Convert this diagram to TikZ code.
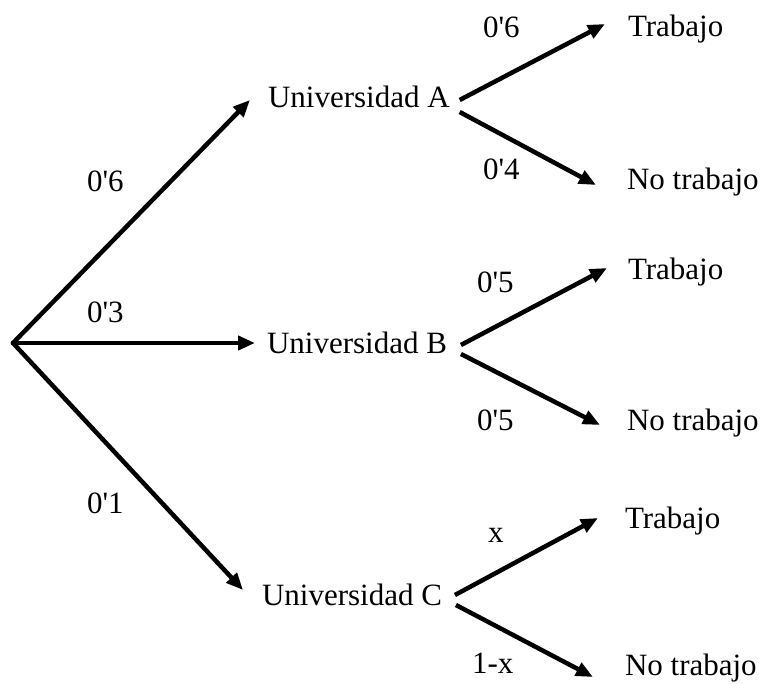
\documentclass[tikz,border=0pt]{standalone}
\usepackage{fontspec}
\setmainfont{Liberation Serif}[Ligatures=TeXOff]
\usetikzlibrary{arrows.meta}

\tikzset{
  txt/.style={anchor=base west,inner sep=0pt,outer sep=0pt,text height=21pt,text depth=7pt,font=\fontsize{31}{36}\selectfont},
  arr/.style={-{Triangle[length=17pt,width=14pt]},line width=4.5pt}
}

\begin{document}
\begin{tikzpicture}[x=1pt,y=-1pt]
  \useasboundingbox (0,0) rectangle (765,684);
  \coordinate (root) at (13,343);
  % universities
  \node[txt] (ua) at (268,108) {Universidad A};
  \node[txt] (ub) at (267,353) {Universidad B};
  \node[txt] (uc) at (262,605) {Universidad C};
  % outcomes
  \node[txt] (ta) at (628,37) {Trabajo};
  \node[txt] (na) at (627,190) {No trabajo};
  \node[txt] (tb) at (628,280) {Trabajo};
  \node[txt] (nb) at (627,430) {No trabajo};
  \node[txt] (tc) at (625,528) {Trabajo};
  \node[txt] (nc) at (625,675) {No trabajo};
  % probabilities
  \node[txt] (pa) at (87,192) {0'6};
  \node[txt] (pb) at (87,323) {0'3};
  \node[txt] (pc) at (87,513) {0'1};
  \node[txt] (pat) at (483,38) {0'6};
  \node[txt] (pan) at (483,180) {0'4};
  \node[txt] (pbt) at (477,293) {0'5};
  \node[txt] (pbn) at (477,430) {0'5};
  \node[txt] (pct) at (488,542) {x};
  \node[txt] (pcn) at (472,673) {1-x};
  % branches
  \draw[arr,line cap=round] (root) -- ([xshift=-18pt,yshift=1pt]ua.west);
  \draw[arr,line cap=round] (root) -- ([xshift=-12pt,yshift=3pt]ub.west);
  \draw[arr,line cap=round] (root) -- ([xshift=-19pt,yshift=8pt]uc.west);
  \draw[arr] ([xshift=10pt,yshift=1pt]ua.east) -- ([xshift=-23pt,yshift=6pt]ta.west);
  \draw[arr] ([xshift=10pt,yshift=-11pt]ua.east) -- ([xshift=-31pt,yshift=-2pt]na.west);
  \draw[arr] ([xshift=14pt,yshift=1pt]ub.east) -- ([xshift=-21pt,yshift=5pt]tb.west);
  \draw[arr] ([xshift=14pt,yshift=-8pt]ub.east) -- ([xshift=-27pt,yshift=-2pt]nb.west);
  \draw[arr] ([xshift=13pt,yshift=3pt]uc.east) -- ([xshift=-27pt,yshift=3pt]tc.west);
  \draw[arr] ([xshift=14pt,yshift=-7pt]uc.east) -- ([xshift=-32pt,yshift=-9pt]nc.west);
\end{tikzpicture}
\end{document}
